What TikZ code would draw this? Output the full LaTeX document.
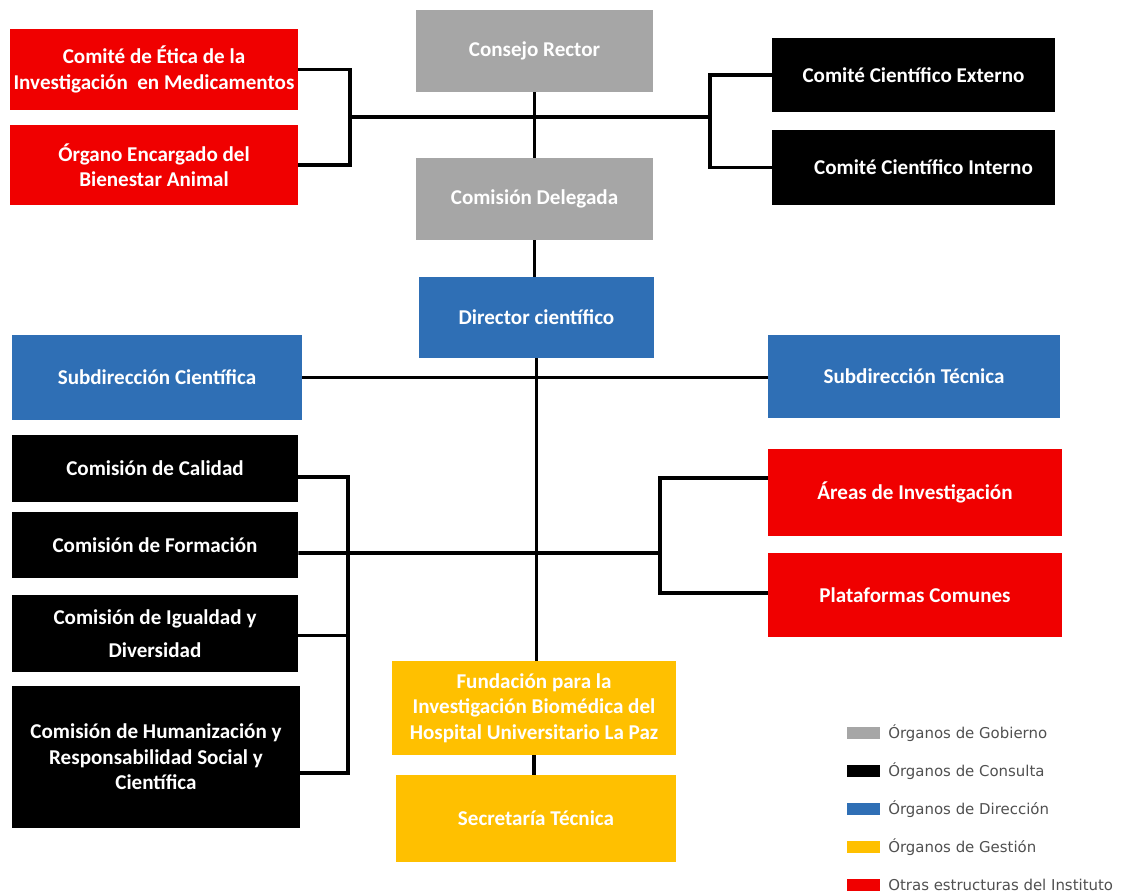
\documentclass[tikz,border=0pt]{standalone}
\usepackage{fontspec}
\setmainfont{Carlito}
\newfontfamily\legendfont{DejaVu Sans}
\definecolor{gobierno}{HTML}{A6A6A6}
\definecolor{direccion}{HTML}{2F6FB5}
\definecolor{gestion}{HTML}{FFC000}
\definecolor{otras}{HTML}{F00000}
\definecolor{legendtext}{HTML}{505050}

\begin{document}
\begin{tikzpicture}[x=0.02cm,y=-0.02cm,
	box/.style={inner sep=1pt,align=center,text=white,font=\bfseries\fontsize{12}{14.5}\selectfont},
	gov/.style={box,fill=gobierno,minimum width=4.74cm,minimum height=1.64cm},
	con/.style={box,fill=black},
	dir/.style={box,fill=direccion},
	ges/.style={box,fill=gestion},
	oth/.style={box,fill=otras},
	link/.style={line width=2pt},
	swatch/.style={minimum width=0.66cm,minimum height=0.24cm,inner sep=0pt},
	legend/.style={anchor=west,inner sep=0pt,text=legendtext,font=\legendfont\fontsize{8.5}{10}\selectfont}]
	\useasboundingbox (0,0) rectangle (1127,895);
					\node(rector)[gov] at (534.5,51) {Consejo Rector};
					\node(delegada)[gov] at (534.5,199) {Comisión Delegada};
					\node(etica)[oth,minimum width=5.76cm,minimum height=1.62cm] at (154,69.5) {Comité de Ética de la\\Investigación \ en Medicamentos};
					\node(bienestar)[oth,minimum width=5.76cm,minimum height=1.6cm] at (154,165) {Órgano Encargado del\\Bienestar Animal};
					\node(externo)[con,minimum width=5.66cm,minimum height=1.48cm] at (913.5,75) {Comité Científico Externo};
					\node(interno)[con,minimum width=5.66cm,minimum height=1.5cm] at (913.5,167.5) {\hspace{0.4cm}Comité Científico Interno};
					\node(director)[dir,minimum width=4.7cm,minimum height=1.62cm] at (536.5,317.5) {Director científico};
					\node(subcien)[dir,minimum width=5.8cm,minimum height=1.7cm] at (157,377.5) {Subdirección Científica};
					\node(subtec)[dir,minimum width=5.84cm,minimum height=1.66cm] at (914,376.5) {Subdirección Técnica};
					\node(calidad)[con,minimum width=5.72cm,minimum height=1.34cm] at (155,468.5) {Comisión de Calidad};
					\node(formacion)[con,minimum width=5.72cm,minimum height=1.32cm] at (155,545) {Comisión de Formación};
					\node(igualdad)[con,minimum width=5.72cm,minimum height=1.54cm] at (155,633.5) {Comisión de Igualdad y\\[4pt]Diversidad};
					\node(humaniz)[con,minimum width=5.76cm,minimum height=2.84cm] at (156,757) {Comisión de Humanización y\\Responsabilidad Social y\\Científica};
					\node(areas)[oth,minimum width=5.88cm,minimum height=1.74cm] at (915,492.5) {Áreas de Investigación};
					\node(plataformas)[oth,minimum width=5.88cm,minimum height=1.68cm] at (915,595) {Plataformas Comunes};
					\node(fundacion)[ges,minimum width=5.68cm,minimum height=1.88cm] at (534,708) {Fundación para la\\Investigación Biomédica del\\Hospital Universitario La Paz};
					\node(secretaria)[ges,minimum width=5.6cm,minimum height=1.74cm] at (536,818.5) {Secretaría Técnica};
						\coordinate(bl) at (350,117);
						\coordinate(br) at (710,117);
						\coordinate(cl) at (348,553);
						\coordinate(cr) at (660,553);
						\draw[link] (etica.east) -| (bl) |- (bienestar.east);
						\draw[link] (bl) -- (br);
						\draw[link] (externo.west) -| (br) |- (interno.west);
						\draw[link] (rector.south) -- (delegada.north);
						\draw[link] (delegada.south) -- (delegada.south |- director.north);
						\draw[link] (director.south) -- (director.south |- fundacion.north);
						\draw[link] (fundacion.south) -- (fundacion.south |- secretaria.north);
						\draw[link] (subcien.east) -- (subcien.east -| subtec.west);
						\draw[link] ([yshift=-0.17cm]calidad.east) -| (cl) |- ([yshift=-0.32cm]humaniz.east);
						\draw[link] ([yshift=-0.04cm]igualdad.east) -| (cl);
						\draw[link] ([yshift=-0.16cm]formacion.east) -- (cr);
						\draw[link] ([yshift=0.29cm]areas.west) -| (cr) |- ([yshift=0.04cm]plataformas.west);
					\foreach \c/\t [count=\i] in {gobierno/Órganos de Gobierno,black/Órganos de Consulta,direccion/Órganos de Dirección,gestion/Órganos de Gestión,otras/Otras estructuras del Instituto}
					{
						\node(sw\i)[swatch,fill=\c] at (863.5,695+38*\i) {};
						\node(lg\i)[legend] at (888,695+38*\i) {\t};
					}
\end{tikzpicture}
\end{document}
